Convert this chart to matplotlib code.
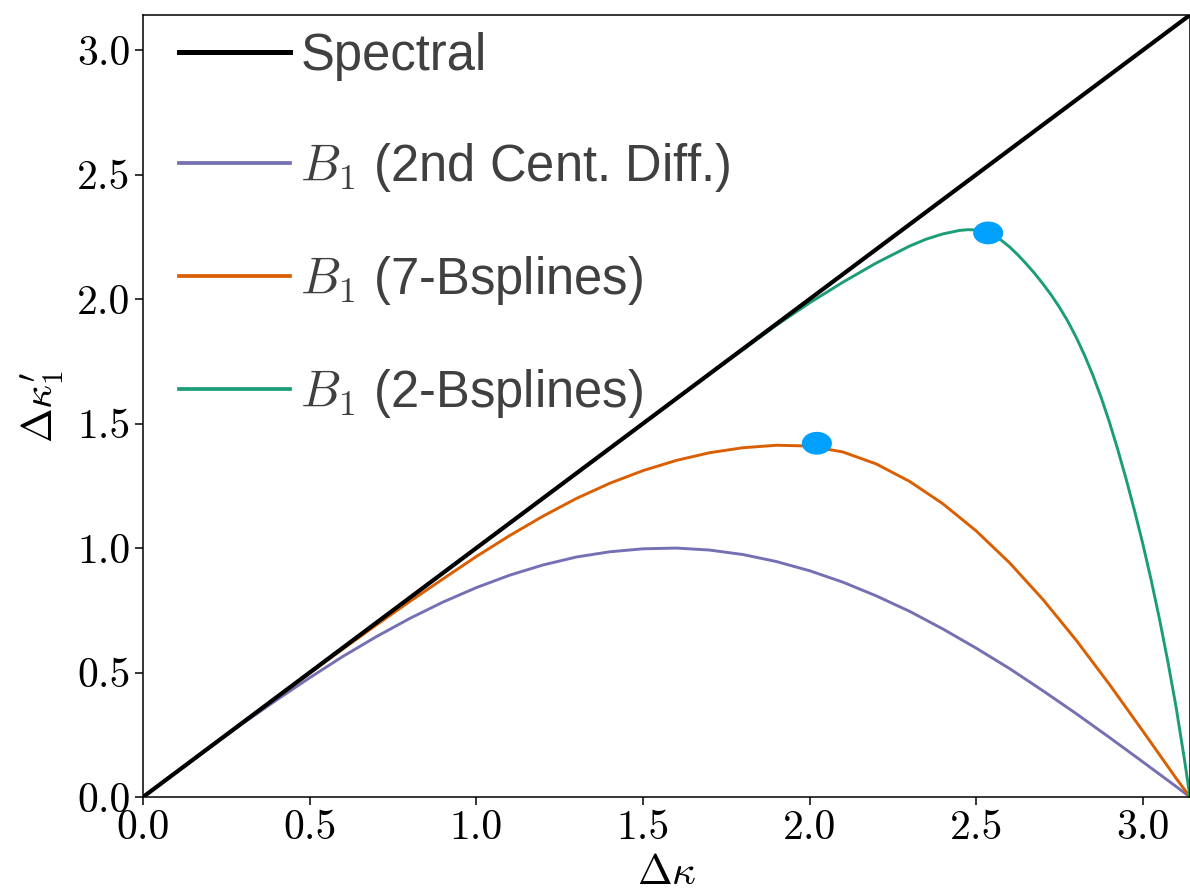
import numpy as np
import matplotlib
matplotlib.use('Agg')
import matplotlib.pyplot as plt
from matplotlib.patches import Circle

# Spectral (exact)
k_spec = [0.0, 3.1416]
spec = [0.0, 3.1416]

# B1, 2nd order central difference
k_cd = [0.0, 0.1, 0.2, 0.3, 0.4, 0.5, 0.6, 0.7, 0.8, 0.9, 1.0, 1.1, 1.2, 1.3, 1.4, 1.5,
        1.6, 1.7, 1.8, 1.9, 2.0, 2.1, 2.2, 2.3, 2.4, 2.5, 2.6, 2.7, 2.8, 2.9, 3.0, 3.1, 3.1416]
cd = [0.000, 0.100, 0.199, 0.296, 0.389, 0.479, 0.565, 0.644, 0.717, 0.783, 0.841, 0.891,
      0.932, 0.964, 0.985, 0.997, 1.000, 0.992, 0.974, 0.946, 0.909, 0.863, 0.808, 0.746,
      0.675, 0.598, 0.516, 0.427, 0.335, 0.239, 0.141, 0.042, 0.000]

# B1, 7 B-splines
k_b7 = [0.0, 0.1, 0.2, 0.3, 0.4, 0.5, 0.6, 0.7, 0.8, 0.9, 1.0, 1.1, 1.2, 1.3, 1.4, 1.5,
        1.6, 1.7, 1.8, 1.9, 2.0, 2.1, 2.2, 2.3, 2.4, 2.5, 2.6, 2.7, 2.8, 2.9, 3.0, 3.1, 3.1416]
b7 = [0.000, 0.100, 0.200, 0.299, 0.399, 0.497, 0.595, 0.691, 0.785, 0.876, 0.966, 1.050,
      1.128, 1.199, 1.260, 1.311, 1.352, 1.383, 1.403, 1.413, 1.410, 1.386, 1.338, 1.268,
      1.178, 1.069, 0.941, 0.794, 0.630, 0.452, 0.265, 0.075, 0.000]

# B1, 2 B-splines
k_b2 = [0.0, 0.5, 1.0, 1.5, 1.6, 1.7, 1.8, 1.9, 2.0, 2.1, 2.2, 2.3, 2.35, 2.4, 2.45,
        2.475, 2.5, 2.525, 2.55, 2.575, 2.6, 2.625, 2.65, 2.675, 2.7, 2.725, 2.75, 2.775,
        2.8, 2.825, 2.85, 2.875, 2.9, 2.925, 2.95, 2.975, 3.0, 3.025, 3.05, 3.075, 3.1,
        3.125, 3.1416]
b2 = [0.000, 0.500, 1.000, 1.500, 1.600, 1.699, 1.797, 1.895, 1.985, 2.068, 2.145, 2.213,
      2.241, 2.262, 2.276, 2.279, 2.278, 2.271, 2.258, 2.237, 2.210, 2.178, 2.142, 2.104,
      2.062, 2.017, 1.967, 1.911, 1.847, 1.775, 1.695, 1.605, 1.505, 1.395, 1.277, 1.151,
      1.017, 0.872, 0.715, 0.545, 0.360, 0.150, 0.000]

# highlighted points
dot_x = [2.022, 2.536]
dot_y = [1.421, 2.266]

ticks = [0.0, 0.5, 1.0, 1.5, 2.0, 2.5, 3.0]
tick_labels = ['0.0', '0.5', '1.0', '1.5', '2.0', '2.5', '3.0']

plt.rcParams['mathtext.fontset'] = 'cm'
plt.rcParams['axes.formatter.use_mathtext'] = True

fig = plt.figure(figsize=(11.9, 8.96), dpi=100)
ax = fig.add_axes([0.1202, 0.1105, 0.8798, 0.8728])

ax.plot(k_spec, spec, color='black', lw=3.0, label='Spectral', zorder=4)
ax.plot(k_cd, cd, color='#7570b3', lw=2.1, label=r'$B_1$ (2nd Cent. Diff.)', zorder=2)
ax.plot(k_b7, b7, color='#d95f02', lw=2.1, label=r'$B_1$ (7-Bsplines)', zorder=2)
ax.plot(k_b2, b2, color='#1b9e77', lw=2.1, label=r'$B_1$ (2-Bsplines)', zorder=2)

for x, y in zip(dot_x, dot_y):
    ax.add_patch(Circle((x, y), 0.043, color='#00a0ff', zorder=5))

ax.set_xlim(0, np.pi)
ax.set_ylim(0, np.pi)
ax.set_xticks(ticks)
ax.set_xticklabels(tick_labels, fontfamily='cmr10', fontsize=30)
ax.set_yticks(ticks)
ax.set_yticklabels(tick_labels, fontfamily='cmr10', fontsize=30)
ax.tick_params(direction='out', length=6, width=1.1, pad=3)
for s in ax.spines.values():
    s.set_linewidth(1.1)

ax.set_xlabel(r'$\Delta\kappa$', fontsize=30, labelpad=3)
ax.set_ylabel(r"$\Delta\kappa_1'$", fontsize=30, labelpad=8)

leg = ax.legend(loc='upper left', bbox_to_anchor=(0.034, 0.978), frameon=False,
                prop={'family': 'Liberation Sans', 'size': 36.5},
                labelcolor='#404040', handlelength=2.2, handletextpad=0.2,
                labelspacing=1.18, borderaxespad=0, borderpad=0)
# legend handles drawn a bit heavier than the curves
for line in leg.get_lines():
    line.set_linewidth(line.get_linewidth() + 0.6)

fig.savefig('out.png', dpi=100)
